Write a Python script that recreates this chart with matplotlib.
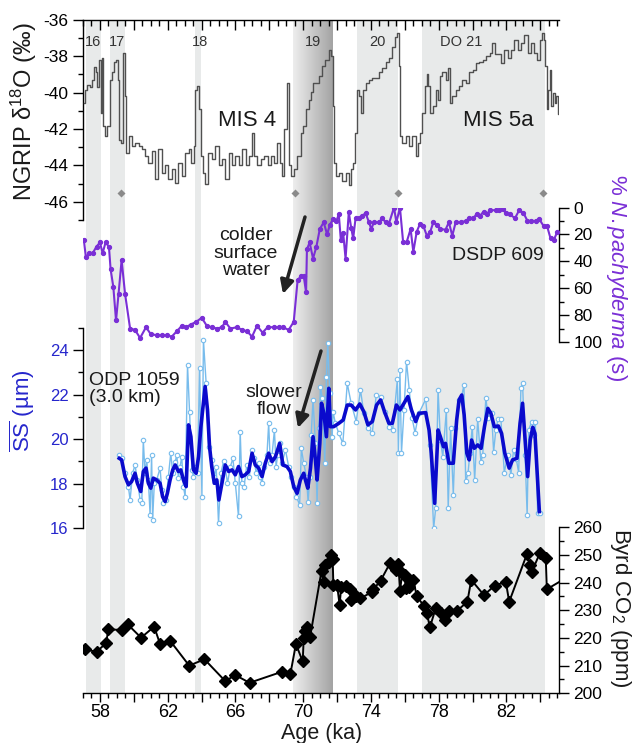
import numpy as np
import matplotlib
matplotlib.use('Agg')
import matplotlib.pyplot as plt
from matplotlib.ticker import MultipleLocator, FuncFormatter

plt.rcParams['font.family'] = ['Liberation Sans', 'DejaVu Sans']
plt.rcParams['mathtext.fontset'] = 'custom'
plt.rcParams['mathtext.rm'] = 'Liberation Sans'
plt.rcParams['mathtext.it'] = 'Liberation Sans:italic'
plt.rcParams['mathtext.bf'] = 'Liberation Sans:bold'
plt.rcParams['axes.unicode_minus'] = False

# ---------------- data ----------------
ngrip_age = [57.05, 57.17, 57.3, 57.5, 57.6, 57.7, 57.8, 57.9, 58.0, 58.1, 58.16, 58.24, 58.36, 58.5, 58.65,
             58.8, 58.9, 59.0, 59.1, 59.2, 59.3, 59.4, 59.5, 59.6, 59.8, 59.97, 60.2, 60.37, 60.56, 60.76,
             60.96, 61.15, 61.35, 61.55, 61.75, 61.95, 62.14, 62.34, 62.54, 62.73, 62.93, 63.13, 63.33, 63.48,
             63.58, 63.68, 63.8, 63.9, 64.0, 64.15, 64.3, 64.5, 64.7, 64.9, 65.1, 65.3, 65.5, 65.7, 65.9, 66.1,
             66.3, 66.5, 66.7, 66.9, 67.0, 67.2, 67.4, 67.6, 67.8, 68.0, 68.16, 68.36, 68.55, 68.7, 68.8, 68.95,
             69.08, 69.2, 69.35, 69.54, 69.74, 69.94, 70.08, 70.23, 70.4, 70.5, 70.7, 70.9, 71.0, 71.2, 71.4,
             71.6, 71.7, 71.76, 71.84, 72.0, 72.2, 72.4, 72.6, 72.75, 72.9, 73.03, 73.1, 73.2, 73.36, 73.44,
             73.6, 73.8, 74.0, 74.17, 74.4, 74.57, 74.76, 74.97, 75.16, 75.36, 75.5, 75.6, 75.67, 75.75, 75.95,
             76.15, 76.34, 76.53, 76.73, 76.83, 76.97, 77.09, 77.23, 77.33, 77.42, 77.56, 77.72, 77.92, 78.0,
             78.1, 78.3, 78.5, 78.6, 78.7, 78.9, 79.1, 79.3, 79.5, 79.7, 79.9, 80.1, 80.3, 80.5, 80.7, 80.9,
             81.1, 81.2, 81.4, 81.6, 81.8, 81.96, 82.16, 82.36, 82.56, 82.76, 82.96, 83.15, 83.35, 83.55, 83.74,
             83.9, 84.0, 84.15, 84.25, 84.33, 84.4, 84.53, 84.6, 84.66, 84.78, 84.9, 85.0, 85.1]
ngrip_d18o = [-40.6, -39.85, -39.6, -39.7, -39.3, -38.6, -38.85, -39.7, -38.2, -41.1, -38.1, -41.85, -42.4, -41.85,
              -39.3, -38.9, -38.3, -38.2, -39.3, -42.6, -42.75, -37.85, -40.2, -43.3, -42.4, -42.95, -42.75, -42.95,
              -43.1, -43.5, -43.85, -43.2, -44.75, -43.1, -44.4, -44.0, -44.75, -44.2, -44.95, -43.85, -44.6, -43.3,
              -43.1, -43.85, -42.95, -39.85, -39.65, -40.9, -43.5, -44.4, -45.05, -43.3, -43.65, -42.95, -44.0,
              -43.65, -44.75, -43.3, -44.0, -43.5, -44.0, -43.1, -44.0, -43.5, -42.2, -43.5, -44.0, -43.65, -43.5,
              -44.0, -43.5, -43.85, -42.75, -43.85, -44.6, -42.0, -39.5, -44.0, -44.6, -44.2, -43.5, -42.2, -41.85,
              -40.9, -40.4, -39.95, -39.5, -39.5, -39.1, -38.55, -38.2, -37.65, -38.0, -40.75, -43.85, -44.6, -44.4,
              -44.85, -44.4, -45.1, -44.2, -43.85, -42.2, -39.85, -40.2, -41.1, -39.85, -39.5, -39.3, -39.2, -39.2,
              -38.85, -38.65, -38.3, -38.1, -37.5, -36.95, -36.75, -38.55, -42.4, -42.75, -42.4, -42.95, -42.4,
              -43.5, -42.75, -42.2, -41.1, -39.65, -39.0, -39.65, -41.1, -40.75, -39.85, -40.4, -39.1, -38.85,
              -39.3, -38.65, -40.55, -40.2, -39.85, -39.65, -39.3, -39.5, -38.9, -38.75, -38.4, -38.3, -38.2,
              -38.0, -37.85, -37.3, -37.9, -37.9, -38.4, -37.65, -38.1, -37.65, -37.1, -37.65, -37.3, -36.85,
              -37.85, -37.3, -37.85, -38.2, -37.1, -36.75, -37.1, -38.55, -40.9, -39.85, -38.75, -40.75, -40.0,
              -40.55, -40.2, -41.2]
tie_points = [59.24, 69.54, 75.6, 84.17]

npach_age = [57.05, 57.17, 57.37, 57.57, 57.8, 58.0, 58.16, 58.33, 58.53, 58.63, 58.79, 58.95, 59.1, 59.28, 59.48,
             59.78, 60.07, 60.37, 60.72, 60.99, 61.35, 61.65, 61.94, 62.24, 62.54, 62.83, 63.09, 63.36, 63.68,
             64.01, 64.31, 64.6, 64.9, 65.2, 65.4, 65.7, 66.09, 66.38, 66.68, 66.98, 67.27, 67.6, 67.9, 68.26,
             68.55, 68.8, 69.14, 69.44, 69.67, 69.87, 70.03, 70.17, 70.22, 70.38, 70.58, 70.78, 70.98, 71.21,
             71.41, 71.57, 71.77, 71.96, 72.1, 72.22, 72.36, 72.5, 72.69, 72.83, 72.95, 73.09, 73.28, 73.48,
             73.68, 73.88, 74.02, 74.17, 74.47, 74.67, 74.86, 75.06, 75.36, 75.5, 75.71, 75.9, 76.1, 76.34,
             76.5, 76.7, 76.9, 77.1, 77.3, 77.5, 77.68, 77.92, 78.1, 78.4, 78.6, 78.8, 79.0, 79.3, 79.6, 79.8,
             80.05, 80.25, 80.45, 80.65, 80.85, 81.05, 81.37, 81.57, 81.77, 81.96, 82.2, 82.5, 82.75, 83.0,
             83.24, 83.44, 83.74, 83.93, 84.2, 84.4, 84.6, 84.8, 85.0]
npach_pct = [24, 37, 34, 34, 29, 26, 34, 26, 29, 46, 59, 84, 64, 39, 64, 90, 91, 97, 89, 94, 95, 95, 95, 96, 92,
             88, 89, 87, 85, 82, 88, 89, 90, 89, 85, 90, 89, 91, 92, 96, 88, 93, 89, 89, 89, 89, 91, 85, 54, 51,
             51, 63, 31, 26, 38, 29, 16, 11, 20, 13, 8.5, 10, 5, 24, 19, 38, 3.5, 15, 23, 8, 8, 6.5, 4, 11, 16,
             11, 11, 8, 11, 12, 0, 11, 0, 26, 26, 16, 33, 18, 12, 14, 21, 18, 11, 13, 16, 16.5, 11, 21, 11, 11,
             10, 8, 8, 4.5, 6, 3, 4.5, 2, 2, 2, 1, 4, 5, 8, 2, 4, 10, 10, 10, 8.5, 14, 14, 23, 24, 18]

ss_raw_age = [59.14, 59.28, 59.48, 59.68, 59.78, 59.93, 60.07, 60.21, 60.37, 60.47, 60.56, 60.66, 60.76, 60.86,
              60.96, 61.05, 61.11, 61.21, 61.35, 61.55, 61.65, 61.75, 61.9, 62.04, 62.18, 62.3, 62.44, 62.54,
              62.63, 62.73, 62.83, 62.93, 63.03, 63.17, 63.29, 63.43, 63.52, 63.62, 63.76, 63.88, 64.02, 64.11,
              64.27, 64.41, 64.61, 64.75, 64.86, 65.0, 65.14, 65.3, 65.4, 65.53, 65.7, 65.85, 65.99, 66.18,
              66.28, 66.38, 66.51, 66.67, 66.82, 66.98, 67.07, 67.23, 67.37, 67.47, 67.57, 67.7, 67.86, 67.96,
              68.06, 68.16, 68.3, 68.4, 68.49, 68.61, 68.75, 68.95, 69.14, 69.28, 69.44, 69.6, 69.79, 69.89,
              70.03, 70.19, 70.29, 70.39, 70.47, 70.58, 70.72, 70.82, 70.92, 71.02, 71.12, 71.27, 71.37, 71.45,
              71.57, 71.71, 71.76, 71.9, 72.1, 72.34, 72.6, 72.83, 73.13, 73.38, 73.58, 73.82, 74.08, 74.31,
              74.57, 74.8, 75.06, 75.28, 75.56, 75.62, 75.71, 75.8, 75.95, 76.1, 76.26, 76.43, 76.6, 76.83,
              77.23, 77.48, 77.7, 77.82, 77.96, 78.1, 78.24, 78.45, 78.56, 78.7, 78.86, 78.99, 79.2, 79.33,
              79.49, 79.59, 79.73, 79.84, 79.98, 80.12, 80.3, 80.49, 80.6, 80.78, 80.93, 81.12, 81.24, 81.37,
              81.5, 81.67, 81.87, 82.07, 82.26, 82.42, 82.58, 82.72, 82.85, 82.95, 83.1, 83.22, 83.31, 83.49,
              83.6, 83.7, 83.84, 83.98]
ss_raw = [19.29, 19.14, 18.47, 17.87, 17.27, 18.47, 18.84, 18.17, 17.27, 17.12, 19.96, 18.47, 19.07, 18.17, 16.6,
          19.29, 16.38, 18.02, 18.17, 18.7, 17.72, 17.12, 17.27, 18.32, 19.37, 18.47, 18.99, 19.29, 18.25, 18.77,
          19.21, 17.87, 17.42, 23.33, 21.23, 18.62, 18.32, 18.77, 18.47, 23.18, 17.42, 24.45, 22.5, 19.66, 19.07,
          18.32, 18.77, 16.23, 18.47, 19.0, 18.7, 18.02, 18.77, 19.14, 18.02, 16.53, 20.34, 18.02, 17.87, 18.84,
          18.32, 19.52, 19.14, 18.47, 18.92, 18.32, 18.02, 18.77, 19.29, 20.71, 18.92, 19.29, 20.41, 18.77, 19.29,
          19.81, 18.92, 19.52, 18.77, 18.32, 17.87, 17.42, 17.05, 19.59, 18.92, 18.32, 17.2, 18.32, 20.19, 21.76,
          19.81, 17.12, 20.49, 22.36, 21.84, 18.92, 22.8, 24.3, 22.06, 20.11, 21.23, 20.71, 20.26, 19.81, 22.5,
          21.61, 20.79, 22.21, 21.16, 20.49, 20.29, 21.98, 21.91, 21.23, 20.56, 20.41, 22.69, 19.37, 23.1, 19.37,
          21.31, 23.48, 22.21, 20.94, 20.29, 21.16, 21.79, 19.74, 16.0, 16.9, 22.21, 19.96, 19.21, 21.31, 16.9,
          20.49, 17.5, 20.49, 21.76, 21.84, 22.43, 18.1, 18.47, 19.37, 20.56, 18.17, 20.89, 18.99, 19.29, 21.84,
          20.94, 21.16, 19.44, 20.41, 20.89, 20.89, 18.5, 19.29, 18.4, 19.52, 19.1, 18.5, 22.28, 22.5, 19.29,
          16.6, 20.41, 20.79, 20.2, 20.79, 16.68, 16.68]

ss_smooth_age = [59.14, 59.28, 59.48, 59.68, 59.87, 60.07, 60.21, 60.41, 60.56, 60.72, 60.86, 61.0, 61.15, 61.35,
                 61.55, 61.7, 61.85, 61.98, 62.14, 62.3, 62.44, 62.63, 62.77, 62.93, 63.09, 63.23, 63.37, 63.52,
                 63.68, 63.82, 63.96, 64.21, 64.35, 64.47, 64.6, 64.75, 64.9, 65.02, 65.2, 65.4, 65.6, 65.8,
                 65.99, 66.18, 66.38, 66.58, 66.78, 66.98, 67.17, 67.37, 67.57, 67.76, 67.96, 68.16, 68.36,
                 68.61, 68.8, 69.04, 69.24, 69.44, 69.64, 69.83, 70.03, 70.13, 70.27, 70.43, 70.58, 70.72,
                 70.82, 70.98, 71.08, 71.22, 71.37, 71.51, 71.6, 71.8, 72.1, 72.36, 72.6, 72.83, 73.09, 73.34,
                 73.58, 73.82, 74.08, 74.33, 74.57, 74.8, 75.06, 75.26, 75.5, 75.71, 75.95, 76.18, 76.39, 76.64,
                 76.83, 77.23, 77.43, 77.56, 77.76, 77.96, 78.1, 78.28, 78.4, 78.6, 78.86, 79.06, 79.2, 79.36,
                 79.5, 79.66, 79.8, 79.94, 80.1, 80.3, 80.5, 80.7, 80.9, 81.08, 81.28, 81.52, 81.71, 81.9, 82.16,
                 82.36, 82.62, 82.8, 82.95, 83.1, 83.25, 83.4, 83.55, 83.68, 83.94]
ss_smooth = [19.14, 19.07, 18.32, 17.95, 18.1, 18.47, 18.02, 17.65, 18.55, 18.7, 18.02, 17.8, 18.25, 18.17, 18.02,
             17.42, 17.2, 17.57, 18.17, 18.62, 18.84, 18.55, 18.62, 18.17, 17.87, 20.64, 20.11, 18.62, 18.47, 19.21,
             20.56, 22.36, 21.31, 19.66, 18.77, 18.02, 18.17, 17.27, 18.02, 18.84, 18.55, 18.62, 18.4, 18.77, 18.32,
             18.4, 18.55, 19.37, 18.84, 18.7, 18.32, 18.92, 19.37, 18.99, 19.21, 19.81, 18.84, 18.77, 18.55, 17.87,
             17.57, 18.17, 18.47, 18.17, 17.8, 18.7, 20.11, 19.07, 18.17, 19.81, 21.61, 21.16, 20.11, 22.28, 20.56,
             20.56, 20.71, 20.86, 21.53, 21.53, 21.31, 21.58, 21.23, 20.64, 20.79, 21.53, 21.76, 21.23, 20.71, 20.71,
             21.53, 21.31, 21.61, 21.91, 21.31, 20.79, 21.16, 21.19, 20.41, 19.37, 17.12, 20.41, 20.1, 19.66, 19.81,
             18.92, 18.92, 20.86, 21.76, 21.98, 21.09, 19.37, 19.07, 19.96, 19.59, 19.74, 19.59, 20.56, 21.38, 21.16,
             20.56, 20.59, 20.26, 19.37, 18.7, 19.07, 19.14, 20.71, 21.61, 19.96, 18.32, 19.96, 20.53, 20.26, 16.75]

co2_age = [57.11, 57.8, 58.36, 58.5, 59.28, 59.64, 60.43, 61.2, 61.55, 62.14, 63.27, 64.17, 65.4, 65.99, 66.83,
           68.75, 69.24, 69.57, 69.97, 70.03, 70.13, 70.25, 70.41, 71.08, 71.22, 71.3, 71.5, 71.64, 71.74, 71.78,
           72.0, 72.15, 72.24, 72.5, 72.75, 72.83, 73.09, 73.38, 74.08, 74.14, 74.57, 75.12, 75.46, 75.62, 75.71,
           75.85, 75.99, 76.05, 76.1, 76.24, 76.5, 76.7, 77.13, 77.29, 77.48, 77.82, 78.15, 78.36, 78.6, 79.1,
           79.69, 79.92, 80.67, 81.3, 81.96, 82.16, 83.2, 83.4, 83.5, 83.98, 84.32, 84.38, 85.6]
co2_ppm = [215.9, 215.0, 218.1, 223.1, 222.9, 224.9, 220.1, 224.1, 217.8, 219.0, 210.0, 212.3, 204.4, 206.6, 203.8,
           207.8, 206.9, 217.8, 211.5, 219.9, 222.5, 223.8, 220.5, 244.2, 240.3, 246.4, 247.6, 250.0, 248.4, 239.1,
           239.1, 231.9, 238.5, 238.8, 237.6, 233.7, 235.2, 234.3, 236.7, 237.6, 240.7, 247.0, 244.6, 246.6, 237.0,
           243.4, 242.8, 238.0, 241.6, 238.5, 241.0, 235.2, 231.5, 229.1, 223.9, 230.7, 228.9, 226.5, 229.9, 229.9,
           233.1, 241.0, 235.5, 238.9, 240.3, 233.1, 250.2, 246.4, 244.0, 250.8, 248.8, 237.6, 242.0]

light_bands = [(57.15, 58.06), (58.6, 59.5), (63.6, 63.95), (73.18, 75.6), (77.0, 84.3)]
dark_band = (69.4, 71.72)

x_ticks_labeled = [58, 62, 66, 70, 74, 78, 82]

# ---------------- figure ----------------
W, H = 634, 743
fig = plt.figure(figsize=(W / 100, H / 100), dpi=100)
X0, X1 = 83, 559
XLIM = (57.0, 85.1)

def rect(top, bottom):
    return [X0 / W, 1 - bottom / H, (X1 - X0) / W, (bottom - top) / H]

def fpos(px, py):
    return (px / W, 1 - py / H)

BAND = '#e8eaea'
PURPLE = '#7a2fd6'
BLUE_LBL = '#2626cc'
BLUE_D = '#0a0acc'
BLUE_L = '#78bcec'
TXT = '#1a1a1a'

# background bands
bg = fig.add_axes(rect(19.5, 693.3))
bg.set_xlim(*XLIM)
bg.set_ylim(0, 1)
bg.axis('off')
for a, b in light_bands:
    bg.axvspan(a, b, color=BAND, lw=0, zorder=0)
grad = np.linspace(0.93, 0.64, 200)[None, :]
bg.imshow(grad, extent=[dark_band[0], dark_band[1], 0, 1], aspect='auto', cmap='gray',
          vmin=0, vmax=1, zorder=1, interpolation='bilinear')

def style(ax):
    ax.set_xlim(*XLIM)
    ax.patch.set_visible(False)
    for s in ax.spines.values():
        s.set_visible(False)
        s.set_linewidth(1.0)
    ax.tick_params(which='major', length=7, width=1.0, labelsize=12.5)
    ax.tick_params(which='minor', length=3.5, width=1.0)

# NGRIP
ax1 = fig.add_axes(rect(19.7, 219.9))
style(ax1)
ax1.set_ylim(-47, -36)
ax1.spines['left'].set_visible(True)
ax1.spines['top'].set_visible(True)
ax1.xaxis.set_ticks_position('top')
ax1.xaxis.set_major_locator(MultipleLocator(2))
ax1.xaxis.set_minor_locator(MultipleLocator(0.5))
ax1.tick_params(axis='x', which='major', direction='in', length=7.5, labeltop=False, labelbottom=False)
ax1.tick_params(axis='x', which='minor', direction='in', length=4)
ax1.set_yticks([-46, -44, -42, -40, -38, -36])
ax1.yaxis.set_minor_locator(MultipleLocator(1))
ax1.step(ngrip_age, ngrip_d18o, where='mid', color='#505050', lw=1.0, zorder=3)
ax1.plot(tie_points, [-45.5] * len(tie_points), 'D', color='#8a8a8a', ms=4.5, mec='none', zorder=3)

# N. pachyderma
ax2 = fig.add_axes(rect(207.5, 342))
style(ax2)
ax2.set_ylim(100, 0)
ax2.spines['right'].set_visible(True)
ax2.yaxis.set_ticks_position('right')
ax2.set_xticks([])
ax2.set_yticks([0, 20, 40, 60, 80, 100])
ax2.yaxis.set_minor_locator(MultipleLocator(10))
ax2.plot(npach_age, npach_pct, '-o', color=PURPLE, lw=1.5, ms=2.8, zorder=3)

# ODP 1059 sortable silt
ax3 = fig.add_axes(rect(327.7, 528.3))
style(ax3)
ax3.set_ylim(16, 25)
ax3.spines['left'].set_visible(True)
ax3.set_xticks([])
ax3.set_yticks([16, 18, 20, 22, 24])
ax3.yaxis.set_minor_locator(MultipleLocator(1))
ax3.tick_params(axis='y', labelcolor=BLUE_LBL, labelsize=12)
ax3.plot(ss_raw_age, ss_raw, '-o', color=BLUE_L, lw=1.0, ms=3.2, mfc='white', mec=BLUE_L, mew=0.8, zorder=3)
ax3.plot(ss_smooth_age, ss_smooth, '-', color=BLUE_D, lw=2.6, zorder=4)

# Byrd CO2
ax4 = fig.add_axes(rect(527.3, 693.3))
style(ax4)
ax4.set_ylim(200, 260)
ax4.spines['right'].set_visible(True)
ax4.spines['bottom'].set_visible(True)
ax4.yaxis.set_ticks_position('right')
ax4.set_yticks(np.arange(200, 261, 10))
ax4.yaxis.set_minor_locator(MultipleLocator(5))
ax4.xaxis.set_major_locator(MultipleLocator(2))
ax4.xaxis.set_minor_locator(MultipleLocator(0.5))
ax4.xaxis.set_major_formatter(FuncFormatter(
    lambda v, p: f'{int(round(v))}' if int(round(v)) in x_ticks_labeled else ''))
ax4.tick_params(axis='x', which='major', length=6.5, pad=1.5, labelsize=13)
ax4.tick_params(axis='x', which='minor', length=3.5)
ax4.plot(co2_age, co2_ppm, '-D', color='black', lw=1.4, ms=6, zorder=3)

# axis labels
fig.text(*fpos(24, 112), r'NGRIP δ$^{18}$O (‰)', rotation=90, ha='center', va='center', fontsize=17, color=TXT)
fig.text(*fpos(22, 411), r'$\overline{\mathrm{SS}}$ (µm)', rotation=90, ha='center', va='center', fontsize=16,
         color=BLUE_LBL)
fig.text(*fpos(616, 278), r'% $\mathit{N.pachyderma}$ (s)', rotation=-90, ha='center', va='center', fontsize=16,
         color=PURPLE)
fig.text(*fpos(621, 608), r'Byrd CO$_2$ (ppm)', rotation=-90, ha='center', va='center', fontsize=16, color=TXT)
fig.text(*fpos(322, 734), 'Age (ka)', ha='center', va='center', fontsize=15.5, color=TXT)

# annotations
for lbl, px in [('16', 93), ('17', 117), ('18', 200), ('19', 313), ('20', 377), ('DO 21', 461)]:
    fig.text(*fpos(px, 42), lbl, ha='center', va='center', fontsize=10.5, color='#333333')
fig.text(*fpos(247, 121), 'MIS 4', ha='center', va='center', fontsize=16, color=TXT)
fig.text(*fpos(498, 121), 'MIS 5a', ha='center', va='center', fontsize=16, color=TXT)
fig.text(*fpos(246, 253), 'colder\nsurface\nwater', ha='center', va='center', fontsize=14, color=TXT,
         linespacing=1.05)
fig.text(*fpos(498, 256), 'DSDP 609', ha='center', va='center', fontsize=14, color=TXT)
fig.text(*fpos(89, 389), 'ODP 1059\n(3.0 km)', ha='left', va='center', fontsize=14, color=TXT, linespacing=1.05)
fig.text(*fpos(274, 401), 'slower\nflow', ha='center', va='center', fontsize=14, color=TXT, linespacing=1.05)

arrow = dict(arrowstyle='-|>', lw=2.5, color='#222222', mutation_scale=20, shrinkA=0, shrinkB=0)
fig.add_artist(matplotlib.patches.FancyArrowPatch(fpos(305, 217), fpos(283, 294), transform=fig.transFigure,
                                                  **arrow))
fig.add_artist(matplotlib.patches.FancyArrowPatch(fpos(321, 351), fpos(298, 428), transform=fig.transFigure,
                                                  **arrow))

fig.savefig('out.png', dpi=100)
